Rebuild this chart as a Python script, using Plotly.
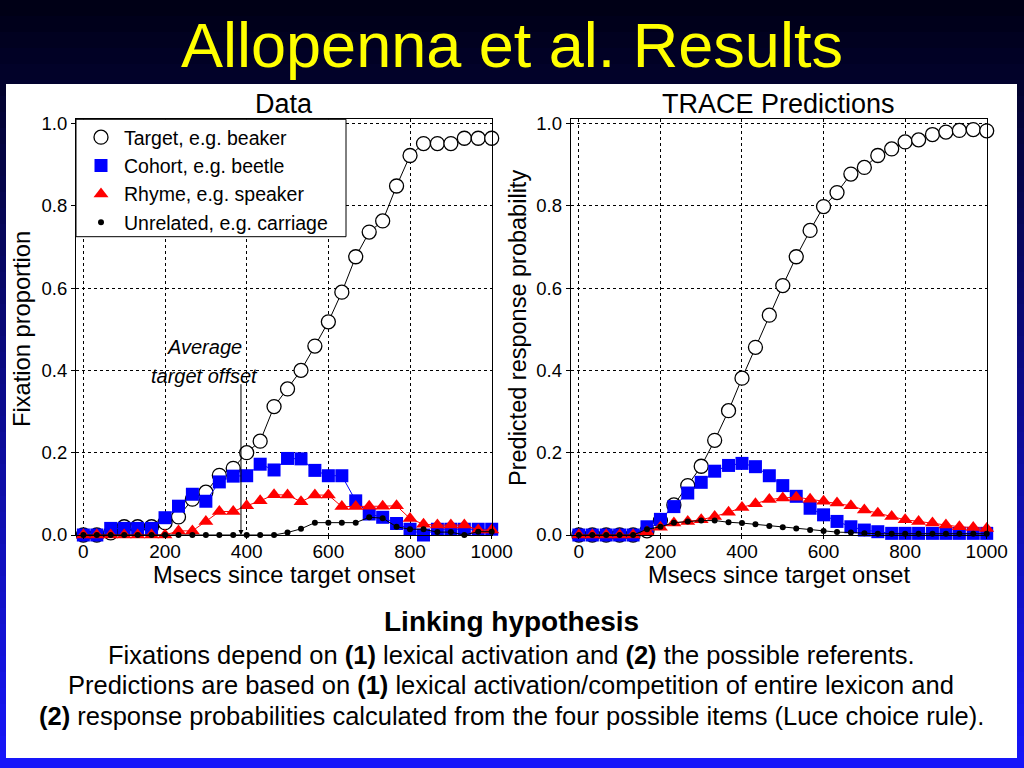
import plotly.graph_objects as go

# ---------------- data ----------------
time_ms = [0, 33, 67, 100, 133, 167, 200, 233, 267, 300, 333, 367, 400, 433, 467,
           500, 533, 567, 600, 633, 667, 700, 733, 767, 800, 833, 867, 900, 933, 967, 1000]

series_names = ["Target, e.g. beaker", "Cohort, e.g. beetle",
                "Rhyme, e.g. speaker", "Unrelated, e.g. carriage"]

# Data panel (fixation proportions)
data_target = [0.0, 0.0, 0.005, 0.02, 0.02, 0.02, 0.03, 0.044, 0.087, 0.104, 0.145, 0.162, 0.2, 0.228, 0.312,
               0.355, 0.40, 0.459, 0.518, 0.59, 0.676, 0.736, 0.763, 0.848, 0.922, 0.951, 0.951, 0.951, 0.964, 0.964, 0.964]
data_cohort = [0.0, 0.0, 0.016, 0.016, 0.016, 0.016, 0.042, 0.07, 0.099, 0.082, 0.129, 0.143, 0.144, 0.172, 0.158,
               0.186, 0.185, 0.157, 0.144, 0.144, 0.083, 0.051, 0.043, 0.028, 0.014, 0.0, 0.014, 0.014, 0.014, 0.014, 0.014]
data_rhyme = [0.0, 0.0, 0.0, 0.0, 0.0, 0.0, 0.0, 0.01, 0.01, 0.033, 0.057, 0.057, 0.071, 0.083, 0.098,
              0.097, 0.081, 0.097, 0.097, 0.069, 0.069, 0.07, 0.07, 0.071, 0.04, 0.026, 0.024, 0.024, 0.024, 0.012, 0.012]
data_unrelated = [0.0, 0.0, 0.0, 0.0, 0.0, 0.0, 0.0, 0.0, 0.0, 0.0, 0.0, 0.0, 0.0, 0.0, 0.0,
                  0.006, 0.015, 0.03, 0.03, 0.03, 0.03, 0.043, 0.041, 0.02, 0.014, 0.014, 0.007, 0.007, 0.0, 0.008, 0.008]

# TRACE predictions panel (predicted response probabilities)
trace_target = [0.0, 0.0, 0.0, 0.0, 0.0, 0.01, 0.035, 0.073, 0.12, 0.167, 0.23, 0.302, 0.381, 0.456, 0.534,
                0.606, 0.676, 0.74, 0.798, 0.832, 0.877, 0.893, 0.922, 0.938, 0.955, 0.96, 0.973, 0.979, 0.983, 0.985, 0.982]
trace_cohort = [0.0, 0.0, 0.0, 0.0, 0.0, 0.02, 0.038, 0.069, 0.102, 0.128, 0.155, 0.169, 0.174, 0.166, 0.144,
                0.12, 0.094, 0.065, 0.049, 0.033, 0.02, 0.012, 0.008, 0.004, 0.004, 0.004, 0.004, 0.004, 0.004, 0.004, 0.004]
trace_rhyme = [0.0, 0.0, 0.0, 0.0, 0.0, 0.008, 0.019, 0.029, 0.033, 0.037, 0.045, 0.055, 0.067, 0.076, 0.086,
               0.09, 0.092, 0.087, 0.082, 0.078, 0.071, 0.061, 0.053, 0.045, 0.037, 0.033, 0.029, 0.024, 0.02, 0.018, 0.016]
trace_unrelated = [0.0, 0.0, 0.0, 0.0, 0.0, 0.014, 0.02, 0.03, 0.033, 0.035, 0.035, 0.031, 0.029, 0.026, 0.022,
                   0.019, 0.016, 0.012, 0.01, 0.007, 0.006, 0.004, 0.003, 0.003, 0.003, 0.003, 0.003, 0.003, 0.003, 0.003, 0.003]

x_ticks = [0, 200, 400, 600, 800, 1000]
y_ticks = [0.0, 0.2, 0.4, 0.6, 0.8, 1.0]
offset_ms = 386

# ---------------- styling ----------------
FONT = "Liberation Sans, Arial, Helvetica, sans-serif"
W, H = 1024, 768

line_styles = [dict(color="black", width=1), dict(color="#0000ff", width=1),
               dict(color="#ff0000", width=1), dict(color="black", width=1)]
marker_styles = [
    dict(symbol="circle", size=14, color="white", line=dict(color="black", width=1.3)),
    dict(symbol="square", size=13, color="#0000ff", line=dict(width=0)),
    dict(symbol="triangle-up", size=13, color="#ff0000", line=dict(width=0)),
    dict(symbol="circle", size=6, color="black", line=dict(width=0)),
]

fig = go.Figure()

left_series = [data_target, data_cohort, data_rhyme, data_unrelated]
right_series = [trace_target, trace_cohort, trace_rhyme, trace_unrelated]

for panel, (series, xa, ya) in enumerate([(left_series, "x", "y"), (right_series, "x2", "y2")]):
    for name, vals, ls, ms in zip(series_names, series, line_styles, marker_styles):
        fig.add_trace(go.Scatter(x=time_ms, y=vals, mode="lines", line=ls, xaxis=xa, yaxis=ya,
                                 showlegend=False, hoverinfo="skip", cliponaxis=False))
        fig.add_trace(go.Scatter(x=time_ms, y=vals, mode="markers", marker=ms, name=name,
                                 xaxis=xa, yaxis=ya, showlegend=(panel == 0), cliponaxis=False))


def px2fx(p):
    return p / W


def py2fy(p):
    return 1 - p / H


y_dom = [py2fy(535), py2fy(119.3)]

axis_common = dict(showline=True, linecolor="black", linewidth=1, mirror=True,
                   showgrid=True, gridcolor="black", gridwidth=1, griddash="dot",
                   zeroline=False, ticks="outside", tickcolor="black",
                   automargin=False)
xtf = dict(family=FONT, size=19, color="black")
ytf = dict(family=FONT, size=18.5, color="black")
x_extra = dict(ticklen=3, ticklabelstandoff=-4, tickfont=xtf)
y_extra = dict(ticklen=4, tickfont=ytf)

fig.update_layout(
    template="none",
    width=W, height=H, autosize=False,
    margin=dict(l=0, r=0, t=0, b=0, pad=0, autoexpand=False),
    paper_bgcolor="#00001a",
    plot_bgcolor="rgba(0,0,0,0)",
    font=dict(family=FONT, color="black"),
    xaxis=dict(domain=[px2fx(76), px2fx(491.7)], range=[-18, 1000], tickvals=x_ticks,
               anchor="y", **x_extra, **axis_common),
    yaxis=dict(domain=y_dom, range=[0, 1.01], tickvals=y_ticks, tickformat=".1f",
               anchor="x", **y_extra, **axis_common),
    xaxis2=dict(domain=[px2fx(570.7), px2fx(986.7)], range=[-20, 1000], tickvals=x_ticks,
                anchor="y2", **x_extra, **axis_common),
    yaxis2=dict(domain=y_dom, range=[0, 1.01], tickvals=y_ticks, tickformat=".1f",
                anchor="x2", **y_extra, **axis_common),
    legend=dict(x=px2fx(78), y=py2fy(118), xanchor="left", yanchor="top",
                bgcolor="rgba(0,0,0,0)", borderwidth=0,
                font=dict(family=FONT, size=19.5, color="black"),
                itemwidth=36, tracegroupgap=0),
)

# background gradient (dark navy at top -> bright blue at bottom) and white panel
shapes = []
n_bands = 48
top_rgb = (0, 0, 22)
bot_rgb = (22, 22, 250)
for i in range(n_bands):
    f = i / (n_bands - 1)
    c = tuple(int(round(top_rgb[k] + (bot_rgb[k] - top_rgb[k]) * f)) for k in range(3))
    shapes.append(dict(type="rect", xref="paper", yref="paper", layer="below",
                       x0=0, x1=1, y0=max(0, 1 - (i + 1) / n_bands - 0.002), y1=1 - i / n_bands,
                       fillcolor="rgb(%d,%d,%d)" % c, line=dict(width=0)))
shapes.append(dict(type="rect", xref="paper", yref="paper", layer="below",
                   x0=px2fx(6), x1=px2fx(1017), y0=py2fy(758), y1=py2fy(84),
                   fillcolor="white", line=dict(width=0)))
# legend box (white, black frame) covering the grid
shapes.append(dict(type="rect", xref="paper", yref="paper", layer="above",
                   x0=px2fx(76), x1=px2fx(346), y0=py2fy(236.7), y1=py2fy(119.3),
                   fillcolor="white", line=dict(color="black", width=1)))
fig.update_layout(shapes=shapes)


def label(text, xp, yp, size, color="black", angle=0):
    return dict(text=text, x=px2fx(xp), y=py2fy(yp), xref="paper", yref="paper",
                xanchor="center", yanchor="middle", showarrow=False, textangle=angle,
                font=dict(family=FONT, size=size, color=color))


ann = []
ann.append(label("Allopenna et al. Results", 512, 45, 63, "#ffff00"))
ann.append(label("Data", 283.5, 104, 27))
ann.append(label("TRACE Predictions", 778.7, 104, 27))
for xc in (283.5, 778.7):
    ann.append(label("Msecs since target onset", xc, 575, 23.7))
ann.append(label("Fixation proportion", 22, 329, 23.7, angle=-90))
ann.append(label("Predicted response probability", 518, 328, 23.5, angle=-90))
# average target offset annotation
ann.append(dict(text="<i>Average</i>", x=296, y=0.457, xref="x", yref="y", showarrow=False,
                xanchor="center", yanchor="middle", font=dict(family=FONT, size=20, color="black")))
ann.append(dict(text="<i>target offset</i>", x=296, y=0.386, xref="x", yref="y", showarrow=False,
                xanchor="center", yanchor="middle", font=dict(family=FONT, size=20, color="black")))
ann.append(dict(text="", x=offset_ms, y=0.0, xref="x", yref="y", ax=offset_ms, ay=0.37,
                axref="x", ayref="y", showarrow=True, arrowhead=2, arrowsize=1, arrowwidth=1,
                arrowcolor="black"))
# bottom text
ann.append(label("<b>Linking hypothesis</b>", 511, 621, 28))
lines = [
    "Fixations depend on <b>(1)</b> lexical activation and <b>(2)</b> the possible referents.",
    "Predictions are based on <b>(1)</b> lexical activation/competition of entire lexicon and",
    "<b>(2)</b> response probabilities calculated from the four possible items (Luce choice rule).",
]
for yy, txt in zip((655, 685, 716), lines):
    ann.append(label(txt, 511, yy, 25.5))
fig.update_layout(annotations=ann)

fig.write_html("out.html",
               config={"displayModeBar": False, "responsive": False},
               post_script="document.body.style.margin='0';document.body.style.overflow='hidden';")
